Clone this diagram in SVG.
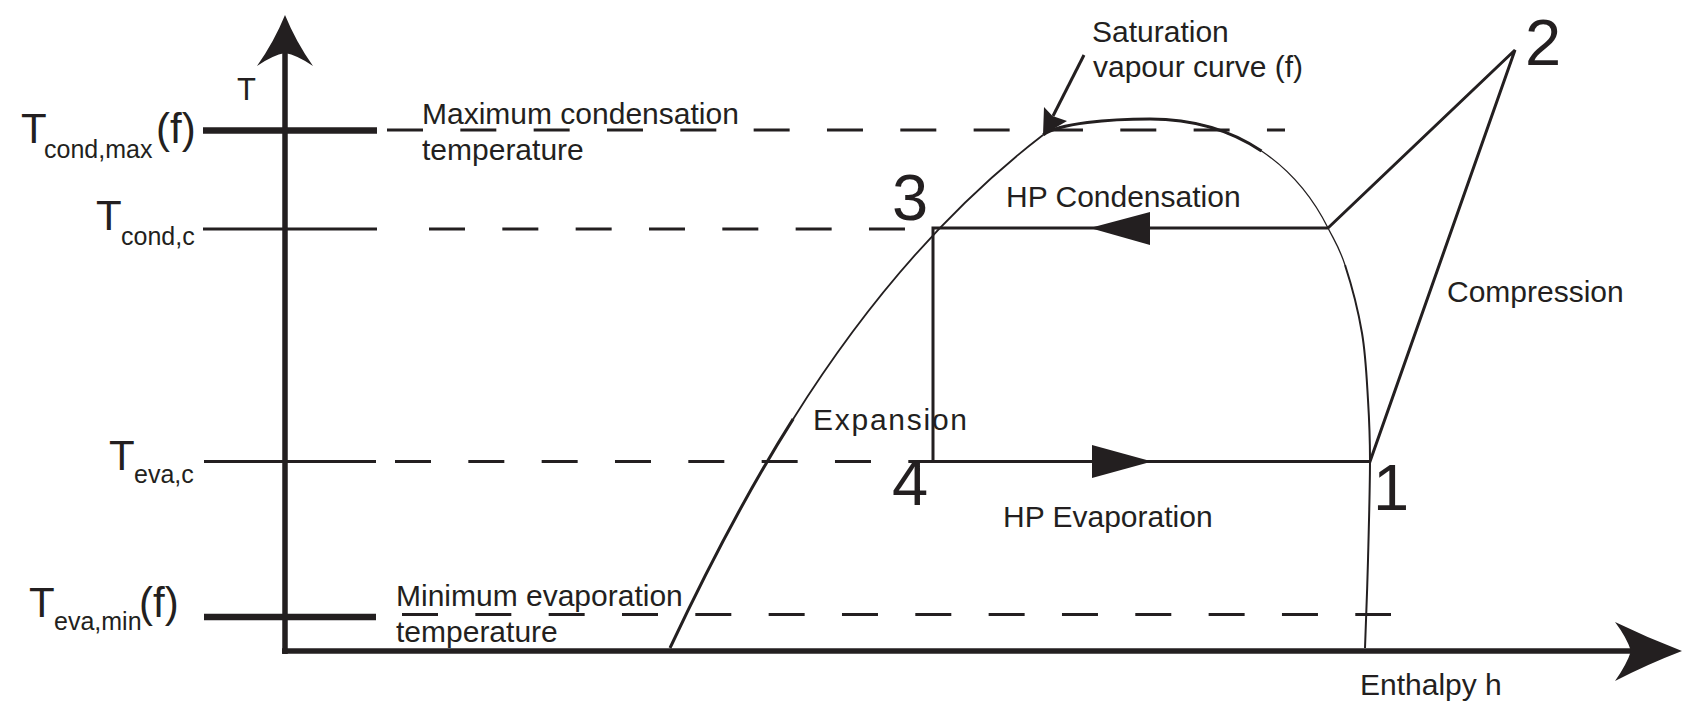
<svg xmlns="http://www.w3.org/2000/svg" width="1694" height="703" viewBox="0 0 1694 703">
<style>
.ln{stroke:#231f20;fill:none;stroke-linecap:butt}
.ax{stroke:#231f20;stroke-width:5.5;fill:none}
.thick{stroke:#231f20;stroke-width:6.5;fill:none}
.thin{stroke:#231f20;stroke-width:3;fill:none}
.dash{stroke:#231f20;stroke-width:3;fill:none;stroke-dasharray:36 37.33}
.proc{stroke:#231f20;stroke-width:3;fill:none;stroke-linejoin:miter}
.hd{fill:#231f20;stroke:none}
.lbl{font-family:"Liberation Sans",Arial,sans-serif;font-size:30px;fill:#231f20}
.big{font-family:"Liberation Sans",Arial,sans-serif;font-size:42px;fill:#231f20}
.sub{font-family:"Liberation Sans",Arial,sans-serif;font-size:25px;fill:#231f20}
.num{font-family:"Liberation Sans",Arial,sans-serif;font-size:65px;fill:#231f20;text-anchor:middle}
</style>
<rect width="1694" height="703" fill="#ffffff"/>

<g id="axes">
  <line class="ax" x1="285" y1="654" x2="285" y2="40"/>
  <line class="ax" x1="282" y1="651" x2="1640" y2="651"/>
  <path class="hd" d="M285,15 Q296,42 313,66 Q297,55 285,53 Q273,55 257,66 Q274,42 285,15 Z"/>
  <path class="hd" d="M1682,651 Q1648,664 1615,681 Q1627,664 1631,651 Q1627,638 1615,622 Q1648,638 1682,651 Z"/>
  <text class="lbl" x="237" y="100" style="font-size:31px">T</text>
  <text class="lbl" x="1360" y="695">Enthalpy h</text>
</g>

<g id="level-cond-max">
  <line class="thick" x1="203" y1="130.5" x2="377" y2="130.5"/>
  <line class="dash" x1="387" y1="130" x2="1285" y2="130"/>
  <text class="big" x="21" y="143">T</text>
  <text class="sub" x="44" y="158">cond,max</text>
  <text class="big" x="156" y="143">(f)</text>
  <text class="lbl" x="422" y="124">Maximum condensation</text>
  <text class="lbl" x="422" y="160">temperature</text>
</g>

<g id="level-cond-c">
  <line class="thin" x1="203" y1="229" x2="377" y2="229"/>
  <line class="dash" x1="429" y1="229" x2="906" y2="229"/>
  <text class="big" x="96" y="230">T</text>
  <text class="sub" x="121" y="245">cond,c</text>
</g>

<g id="level-eva-c">
  <line class="thin" x1="204" y1="461.5" x2="376" y2="461.5"/>
  <line class="dash" x1="395" y1="461.5" x2="933" y2="461.5"/>
  <text class="big" x="109" y="470">T</text>
  <text class="sub" x="134" y="483">eva,c</text>
</g>

<g id="level-eva-min">
  <line class="thick" x1="204" y1="617" x2="376" y2="617"/>
  <line class="dash" x1="402" y1="614.5" x2="1391" y2="614.5"/>
  <text class="big" x="29" y="617">T</text>
  <text class="sub" x="54" y="630">eva,min</text>
  <text class="big" x="139" y="617">(f)</text>
  <text class="lbl" x="396" y="606">Minimum evaporation</text>
  <text class="lbl" x="396" y="642">temperature</text>
</g>

<g id="saturation-curve">
  <path class="ln" style="stroke-width:3" d="M670,648 C707.6,568 747.8,490.7 793.2,418.9"/>
  <path class="ln" style="stroke-width:1.8" d="M793.2,418.9 C861.4,310.1 941.6,213 1043,135"/>
  <path class="ln" style="stroke-width:3" d="M1043,135 C1058.6,123 1110,119 1150,119 C1195,119 1232,131.25 1261.5,151"/>
  <path class="ln" style="stroke-width:1.3" d="M1150,119 C1240,119 1298,168 1328,228"/>
  <path class="ln" style="stroke-width:1.3" d="M1328,228 C1335,241.8 1339.3,247.5 1345,265"/>
  <path class="ln" style="stroke-width:2" d="M1345,265 C1350.7,282.5 1358.2,310.5 1362,333 C1365.8,355.5 1366.7,378.8 1368,400 C1369.3,421.2 1370,433.3 1370,460 C1370,486.7 1368.8,528.7 1368,560 C1367.2,591.3 1365.5,633.3 1365,648"/>
</g>

<g id="saturation-label">
  <text class="lbl" x="1092" y="42">Saturation</text>
  <text class="lbl" x="1093" y="77">vapour curve (f)</text>
  <line class="thin" x1="1084" y1="55" x2="1053" y2="116"/>
  <path class="hd" d="M1043,135 L1044,107 L1052.5,116 L1067,121 Z"/>
</g>

<g id="connectors">
  <polyline class="proc" points="1328,228 933,228 933,461.5 1370,461.5 1515,50 1328,228"/>
  <path class="hd" d="M1090,228 L1150,212 L1150,245 Z"/>
  <path class="hd" d="M1152,461.5 L1092,445 L1092,478 Z"/>
</g>

<g id="state-1"><text class="num" x="1391" y="510">1</text></g>
<g id="state-2"><text class="num" x="1543" y="65">2</text></g>
<g id="state-3"><text class="num" x="910" y="220">3</text></g>
<g id="state-4"><text class="num" x="910" y="505">4</text></g>

<g id="process-labels">
  <text class="lbl" x="1006" y="207">HP Condensation</text>
  <text class="lbl" x="1447" y="302">Compression</text>
  <text class="lbl" x="813" y="430" textLength="154" lengthAdjust="spacing">Expansion</text>
  <text class="lbl" x="1003" y="527">HP Evaporation</text>
</g>
</svg>
